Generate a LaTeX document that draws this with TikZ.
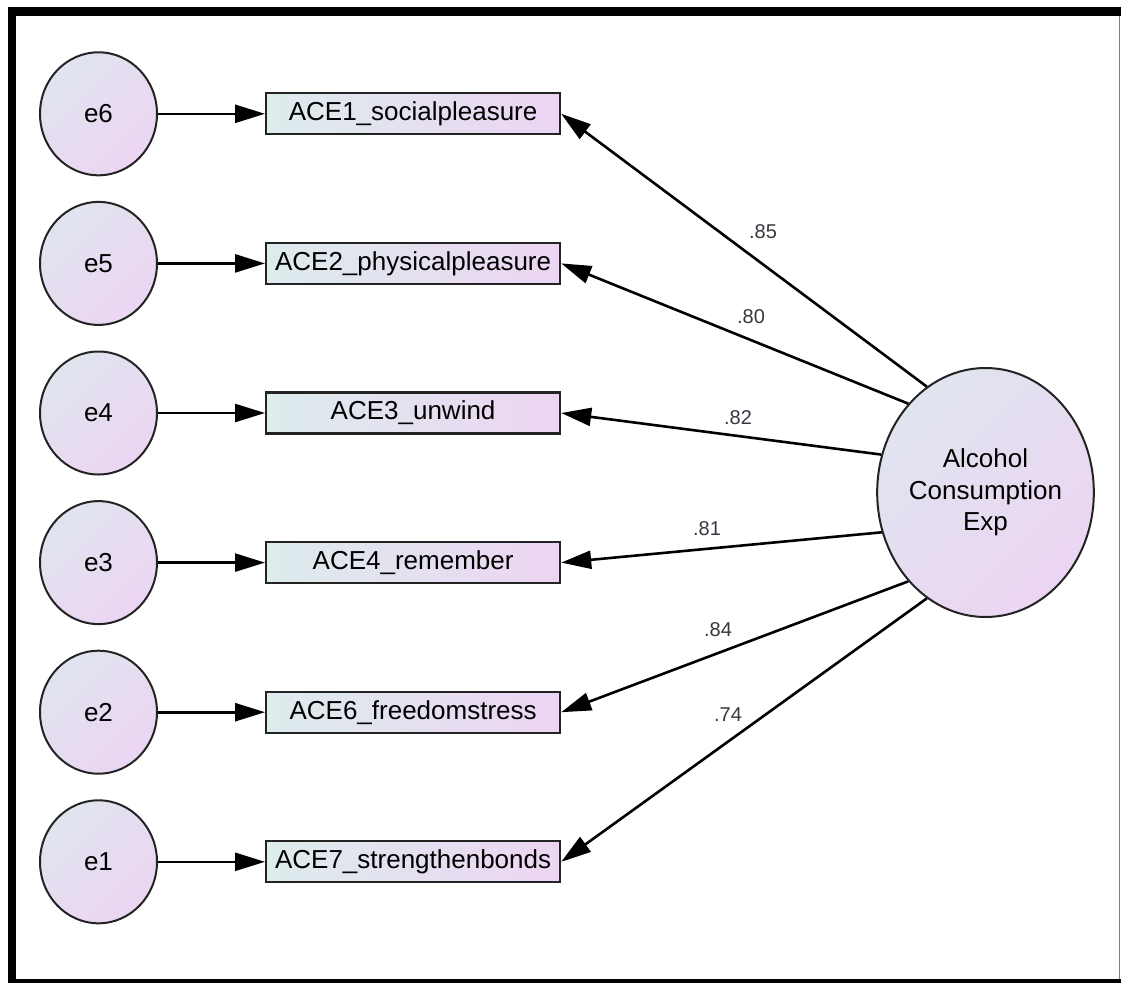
\documentclass[tikz,border=0pt]{standalone}
\usepackage{fontspec}
\setmainfont{Liberation Sans}
\usetikzlibrary{shapes,arrows.meta,positioning}
\definecolor{frameblack}{RGB}{0,0,0}
\definecolor{shadeblue}{RGB}{224,228,238}
\definecolor{shadelilac}{RGB}{236,213,243}
\definecolor{boxcyan}{RGB}{221,236,236}
\definecolor{edgegray}{RGB}{35,35,35}
\definecolor{coefgray}{RGB}{55,55,65}

\begin{document}
\begin{tikzpicture}[
    x=1pt, y=-1pt,
    node distance=149.6pt,
    every node/.style={align=center},
    errvar/.style={ellipse, minimum width=117pt, minimum height=123pt, inner sep=0pt, draw=edgegray, line width=2pt, top color=shadeblue, bottom color=shadelilac, shading angle=45, font=\fontsize{26}{31}\selectfont},
    observed/.style={rectangle, minimum width=294pt, minimum height=41pt, inner sep=0pt, draw=edgegray, line width=2.2pt, left color=boxcyan, right color=shadelilac, font=\fontsize{26}{31}\selectfont},
    latent/.style={ellipse, minimum width=205pt, minimum height=249pt, inner sep=0pt, draw=edgegray, line width=2pt, top color=shadeblue, bottom color=shadelilac, shading angle=45, font=\fontsize{26}{31.5}\selectfont},
    coef/.style={font=\fontsize{20}{24}\selectfont, text=coefgray, inner sep=1pt},
    arrow/.style={line width=2.6pt, -{Triangle[length=30pt, width=18pt]}}
]
\useasboundingbox (0,0) rectangle (1121,983);

% Frame
\fill[frameblack] (8,7) rectangle (1121,16);
\fill[frameblack] (8,7) rectangle (16,983);
\fill[frameblack] (8,979) rectangle (1121,983);
\draw[gray, line width=1.5pt] (1119.5,16) -- (1119.5,979);

% Error terms
\node[errvar] (e6) at (98.5,113.8) {e6};
\node[errvar, below of=e6] (e5) {e5};
\node[errvar, below of=e5] (e4) {e4};
\node[errvar, below of=e4] (e3) {e3};
\node[errvar, below of=e3] (e2) {e2};
\node[errvar, below of=e2] (e1) {e1};

% Indicators
\node[observed, right of=e6, xshift=165pt] (ace1) {ACE1\_socialpleasure};
\node[observed, right of=e5, xshift=165pt] (ace2) {ACE2\_physicalpleasure};
\node[observed, right of=e4, xshift=165pt] (ace3) {ACE3\_unwind};
\node[observed, right of=e3, xshift=165pt] (ace4) {ACE4\_remember};
\node[observed, right of=e2, xshift=165pt] (ace6) {ACE6\_freedomstress};
\node[observed, right of=e1, xshift=165pt] (ace7) {ACE7\_strengthenbonds};

% Latent factor
\node[latent] (ace) at (985.5,492.5) {Alcohol\\Consumption\\Exp};

% Arrows
\draw[arrow] (e6) -- (ace1);
\draw[arrow] (e5) -- (ace2);
\draw[arrow] (e4) -- (ace3);
\draw[arrow] (e3) -- (ace4);
\draw[arrow] (e2) -- (ace6);
\draw[arrow] (e1) -- (ace7);

\draw[arrow] (ace.119) -- (ace1.east);
\draw[arrow] (ace.131) -- (ace2.east);
\draw[arrow] (ace.160) -- (ace3.east);
\draw[arrow] (ace.201) -- (ace4.east);
\draw[arrow] (ace.229) -- (ace6.east);
\draw[arrow] (ace.241) -- (ace7.east);

% Loadings
\node[coef] (l1) at (763,232) {.85};
\node[coef] (l2) at (751,317) {.80};
\node[coef] (l3) at (738,418) {.82};
\node[coef] (l4) at (707,529) {.81};
\node[coef] (l5) at (718,630) {.84};
\node[coef] (l6) at (728,715) {.74};

\end{tikzpicture}
\end{document}
